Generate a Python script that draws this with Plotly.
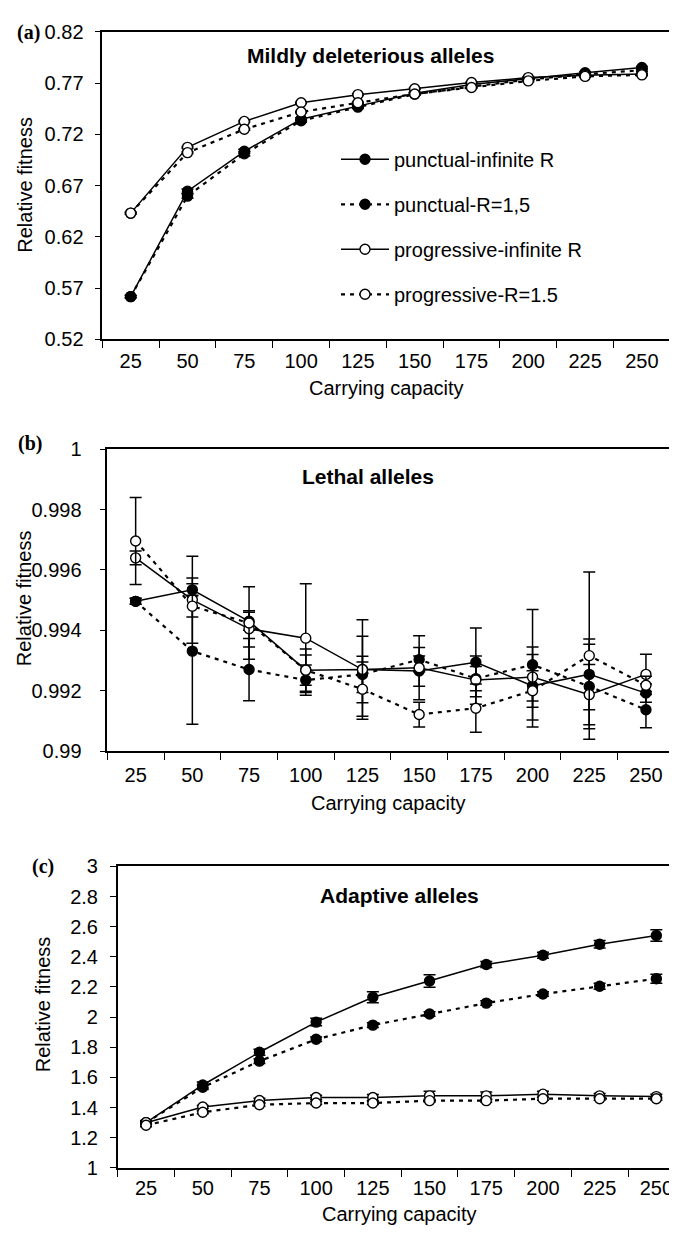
import plotly.graph_objects as go

W, H = 677, 1237
PAGE_OFFSET = 8  # default body margin of the written page

capacity = ["25", "50", "75", "100", "125", "150", "175", "200", "225", "250"]
series_names = ["punctual-infinite R", "punctual-R=1,5", "progressive-infinite R", "progressive-R=1.5"]

# ---- (a) Mildly deleterious alleles
mild_punct_inf = [0.5618, 0.6646, 0.7035, 0.7348, 0.7475, 0.7600, 0.7685, 0.7745, 0.7801, 0.7852]
mild_punct_r15 = [0.5618, 0.6598, 0.7010, 0.7332, 0.7465, 0.7592, 0.7665, 0.7735, 0.7785, 0.7826]
mild_prog_inf = [0.6432, 0.7073, 0.7326, 0.7508, 0.7587, 0.7645, 0.7705, 0.7753, 0.7775, 0.7788]
mild_prog_r15 = [0.6432, 0.7022, 0.7249, 0.7418, 0.7508, 0.7594, 0.7657, 0.7721, 0.7765, 0.7780]
mild_err_punct_inf = [0.0010, 0.0020, 0.0020, 0.0015, 0.0012, 0.0010, 0.0010, 0.0010, 0.0010, 0.0010]
mild_err_punct_r15 = [0.0010, 0.0020, 0.0020, 0.0015, 0.0012, 0.0010, 0.0010, 0.0010, 0.0010, 0.0010]
mild_err_prog_inf = [0.0008, 0.0008, 0.0008, 0.0008, 0.0008, 0.0008, 0.0008, 0.0008, 0.0008, 0.0008]
mild_err_prog_r15 = [0.0008, 0.0008, 0.0008, 0.0008, 0.0008, 0.0008, 0.0008, 0.0008, 0.0008, 0.0008]

# ---- (b) Lethal alleles
lethal_punct_inf = [0.99496, 0.99534, 0.99430, 0.99268, 0.99270, 0.99265, 0.99294, 0.99216, 0.99254, 0.99192]
lethal_punct_r15 = [0.99496, 0.99331, 0.99270, 0.99235, 0.99254, 0.99303, 0.99240, 0.99286, 0.99214, 0.99137]
lethal_prog_inf = [0.99640, 0.99501, 0.99405, 0.99374, 0.99270, 0.99276, 0.99235, 0.99245, 0.99187, 0.99254]
lethal_prog_r15 = [0.99696, 0.99480, 0.99424, 0.99268, 0.99205, 0.99121, 0.99142, 0.99200, 0.99316, 0.99218]
lethal_err_punct_inf = [0.0001, 0.0002, 0.0003, 0.0005, 0.0011, 0.0005, 0.00114, 0.0005, 0.00117, 0.0003]
lethal_err_punct_r15 = [0.0001, 0.00242, 0.00103, 0.0005, 0.0006, 0.0004, 0.0004, 0.00183, 0.0014, 0.0006]
lethal_err_prog_inf = [0.00023, 0.00144, 0.0006, 0.0018, 0.00165, 0.00106, 0.0008, 0.0010, 0.0010, 0.00067]
lethal_err_prog_r15 = [0.00144, 0.00036, 0.0012, 0.0007, 0.0009, 0.00041, 0.0008, 0.0012, 0.00277, 0.0003]

# ---- (c) Adaptive alleles
adapt_punct_inf = [1.300, 1.550, 1.767, 1.967, 2.132, 2.240, 2.349, 2.410, 2.483, 2.542]
adapt_punct_r15 = [1.300, 1.535, 1.708, 1.853, 1.947, 2.021, 2.093, 2.153, 2.205, 2.255]
adapt_prog_inf = [1.300, 1.404, 1.447, 1.467, 1.467, 1.478, 1.478, 1.489, 1.478, 1.473]
adapt_prog_r15 = [1.283, 1.369, 1.419, 1.430, 1.430, 1.446, 1.446, 1.459, 1.459, 1.459]
adapt_err_punct_inf = [0.015, 0.020, 0.020, 0.025, 0.036, 0.041, 0.020, 0.020, 0.025, 0.038]
adapt_err_punct_r15 = [0.010, 0.015, 0.015, 0.015, 0.015, 0.015, 0.015, 0.015, 0.020, 0.030]
adapt_err_prog_inf = [0.010, 0.010, 0.015, 0.015, 0.020, 0.030, 0.025, 0.020, 0.015, 0.015]
adapt_err_prog_r15 = [0.010, 0.010, 0.010, 0.010, 0.010, 0.010, 0.010, 0.010, 0.010, 0.010]

y_ranges = [[0.52, 0.82], [0.99, 1.0], [1.0, 3.0]]
y_dticks = [0.05, 0.002, 0.2]
panel_titles = ["Mildly deleterious alleles", "Lethal alleles", "Adaptive alleles"]
panel_letters = ["(a)", "(b)", "(c)"]
x_title = "Carrying capacity"
y_title = "Relative fitness"

FONT = "Arial, 'Liberation Sans', sans-serif"
SERIF = "'Times New Roman', 'Liberation Serif', serif"


def px_x(v):
    return min(1.0, max(0.0, (v - PAGE_OFFSET) / W))


def px_y(v):
    return min(1.0, max(0.0, 1 - (v - PAGE_OFFSET) / H))


# Layout geometry (page pixels): left, right, top, bottom of each plot area
geom = [
    dict(l=102.3, r=670.3, t=21.0, b=334.3),
    dict(l=107.3, r=674.3, t=446.0, b=753.3),
    dict(l=117.7, r=684.7, t=870.7, b=1177.7),
]

styles = [
    dict(dash="solid", fill="black", width=1.5),
    dict(dash="4px,5px", fill="black", width=2.2),
    dict(dash="solid", fill="white", width=1.5),
    dict(dash="4px,5px", fill="white", width=2.2),
]

panels = [
    ([mild_punct_inf, mild_punct_r15, mild_prog_inf, mild_prog_r15],
     [mild_err_punct_inf, mild_err_punct_r15, mild_err_prog_inf, mild_err_prog_r15]),
    ([lethal_punct_inf, lethal_punct_r15, lethal_prog_inf, lethal_prog_r15],
     [lethal_err_punct_inf, lethal_err_punct_r15, lethal_err_prog_inf, lethal_err_prog_r15]),
    ([adapt_punct_inf, adapt_punct_r15, adapt_prog_inf, adapt_prog_r15],
     [adapt_err_punct_inf, adapt_err_punct_r15, adapt_err_prog_inf, adapt_err_prog_r15]),
]

fig = go.Figure()

for p, (vals, errs) in enumerate(panels):
    xa = "x" if p == 0 else f"x{p+1}"
    ya = "y" if p == 0 else f"y{p+1}"
    for s in range(4):
        st = styles[s]
        fig.add_trace(go.Scatter(
            x=capacity, y=vals[s], xaxis=xa, yaxis=ya,
            mode="lines+markers",
            name=series_names[s],
            legendgroup=series_names[s],
            showlegend=(p == 0),
            line=dict(color="black", width=st["width"], dash=st["dash"]),
            marker=dict(symbol="circle", size=10, color=st["fill"],
                        line=dict(color="black", width=1.4)),
            error_y=dict(type="data", array=errs[s], visible=True,
                         color="black", thickness=1.5, width=6),
            cliponaxis=False,
        ))

layout = dict(
    width=W, height=H,
    margin=dict(l=0, r=0, t=0, b=0),
    paper_bgcolor="white", plot_bgcolor="white",
    font=dict(family=FONT, size=20, color="black"),
    showlegend=True,
    legend=dict(
        x=px_x(336), y=px_y(131), xanchor="left", yanchor="top",
        bgcolor="rgba(0,0,0,0)", borderwidth=0,
        font=dict(family=FONT, size=20, color="black"),
        tracegroupgap=16, itemwidth=48,
    ),
)

ticklabel_standoff_y = [7, 14, 8]
ticklabel_standoff_x = [3, 5, 1]

annotations = []
for p in range(3):
    g = geom[p]
    xk = "xaxis" if p == 0 else f"xaxis{p+1}"
    yk = "yaxis" if p == 0 else f"yaxis{p+1}"
    ya = "y" if p == 0 else f"y{p+1}"
    xa = "x" if p == 0 else f"x{p+1}"
    x0, x1 = px_x(g["l"]), px_x(g["r"])
    cat_w = (g["r"] - g["l"]) / 10.0
    x_end = -0.5 + (x1 * W + PAGE_OFFSET - g["l"]) / cat_w
    layout[xk] = dict(
        domain=[x0, x1],
        anchor=ya, type="category", range=[-0.5, x_end],
        showline=True, linecolor="black", linewidth=1.5, mirror=True,
        ticks="outside", tickson="boundaries", ticklen=7, tickwidth=1.3, tickcolor="black",
        showgrid=False, zeroline=False,
        ticklabelstandoff=ticklabel_standoff_x[p],
        tickfont=dict(family=FONT, size=20, color="black"),
    )
    layout[yk] = dict(
        domain=[px_y(g["b"]), px_y(g["t"])],
        anchor=xa, range=y_ranges[p], dtick=y_dticks[p], tick0=y_ranges[p][0],
        showline=True, linecolor="black", linewidth=1.5, mirror=(p != 2),
        ticks="outside", ticklen=6, tickwidth=1.3, tickcolor="black",
        showgrid=False, zeroline=False,
        ticklabelstandoff=ticklabel_standoff_y[p],
        tickfont=dict(family=FONT, size=20, color="black"),
    )

# Text positions (page pixels)
title_pos = [(370.8, 45.0), (368.3, 474.0), (399.2, 900.0)]
letter_pos = [(28.3, 21.7), (29.7, 440.0), (43.3, 871.0)]
ytitle_pos = [(25.0, 176.7), (24.0, 597.7), (43.3, 1010.8)]
xtitle_pos = [(386.5, 384.0), (388.7, 806.7), (399.0, 1225.0)]

for p in range(3):
    annotations.append(dict(
        text=f"<b>{panel_titles[p]}</b>", x=px_x(title_pos[p][0]), y=px_y(title_pos[p][1]),
        xref="paper", yref="paper", showarrow=False, xanchor="center", yanchor="middle",
        font=dict(family=FONT, size=21, color="black")))
    annotations.append(dict(
        text=f"<b>{panel_letters[p]}</b>", x=px_x(letter_pos[p][0]), y=px_y(letter_pos[p][1]),
        xref="paper", yref="paper", showarrow=False, xanchor="center", yanchor="middle",
        font=dict(family=SERIF, size=20, color="black")))
    annotations.append(dict(
        text=y_title, x=px_x(ytitle_pos[p][0]), y=px_y(ytitle_pos[p][1]), textangle=-90,
        xref="paper", yref="paper", showarrow=False, xanchor="center", yanchor="middle",
        font=dict(family=FONT, size=20, color="black")))
    annotations.append(dict(
        text=x_title, x=px_x(xtitle_pos[p][0]), y=px_y(xtitle_pos[p][1]),
        xref="paper", yref="paper", showarrow=False, xanchor="center", yanchor="middle",
        font=dict(family=FONT, size=20, color="black")))

layout["annotations"] = annotations
fig.update_layout(**layout)

fig.write_html("out.html")
